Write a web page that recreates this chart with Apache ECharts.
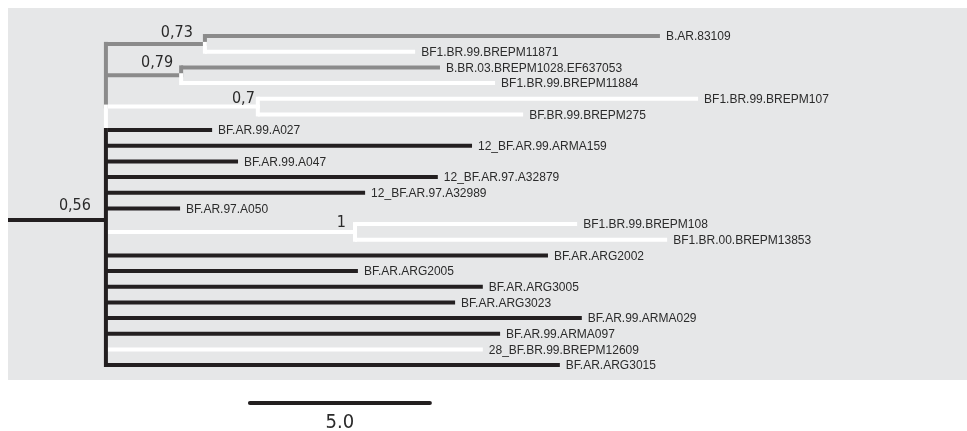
<!DOCTYPE html>
<html>
<head>
<meta charset="utf-8">
<script src="https://cdn.jsdelivr.net/npm/echarts@6/dist/echarts.min.js"></script>
<style>
  html, body { margin: 0; padding: 0; background: #fff; }
  #main { width: 967px; height: 431px; }
</style>
</head>
<body>
<div id="main"></div>
<script>
// tips, top to bottom
const leafNames = [
  'B.AR.83109', 'BF1.BR.99.BREPM11871', 'B.BR.03.BREPM1028.EF637053', 'BF1.BR.99.BREPM11884',
  'BF1.BR.99.BREPM107', 'BF.BR.99.BREPM275', 'BF.AR.99.A027', '12_BF.AR.99.ARMA159',
  'BF.AR.99.A047', '12_BF.AR.97.A32879', '12_BF.AR.97.A32989', 'BF.AR.97.A050',
  'BF1.BR.99.BREPM108', 'BF1.BR.00.BREPM13853', 'BF.AR.ARG2002', 'BF.AR.ARG2005',
  'BF.AR.ARG3005', 'BF.AR.ARG3023', 'BF.AR.99.ARMA029', 'BF.AR.99.ARMA097',
  '28_BF.BR.99.BREPM12609', 'BF.AR.ARG3015'
];
// distance from root (branch length units)
const leafDepth = [
  18.11, 11.31, 12.00, 13.53, 19.17, 14.31, 5.67, 12.89, 6.39, 11.94, 9.92,
  4.78, 15.81, 18.31, 15.00, 9.72, 13.19, 12.42, 15.94, 13.67, 13.19, 15.33
];
// 0 black, 1 gray, 2 white
const leafColor = [1, 2, 1, 2, 2, 2, 0, 0, 0, 0, 0, 0, 2, 2, 0, 0, 0, 0, 0, 0, 2, 0];

const rootDepth = 2.72;
const rootY = 11.74;
const rootSupport = '0,56';

const cladeSupport = ['0,73', '0,79', '0,7', '1'];
const cladeDepth = [5.47, 4.81, 6.94, 9.64];
const cladeTips = [[0, 1], [2, 3], [4, 5], [12, 13]];
const cladeColor = [1, 1, 2, 2];

// vertical line at the root node: [from, to, colour]
const spine = [[0.5, 4.5, 1], [4.5, 6, 2], [6, 21, 0]];

const scaleBarStart = 6.72;
const scaleBarLength = 5.0;
const scaleBarLabel = '5.0';

const palette = ['#231f20', '#8b8b8b', '#ffffff'];
const supportOffsets = [[-12, -11], [-8, -12], [-3, -7.5], [-9, -9.5]];
const rootSupportOffset = [-15, -14];
const narrowFont = "'Liberation Sans Narrow', 'DejaVu Sans Condensed', sans-serif";

// build segments: [x1, y1, x2, y2, colour, vertical]
const horiz = [];
const vert = [];
horiz.push([0, rootY, rootDepth, rootY, 0, 0]);
const inClade = new Set(cladeTips.flat());
leafNames.forEach((n, i) => {
  if (!inClade.has(i)) horiz.push([rootDepth, i, leafDepth[i], i, leafColor[i], 0]);
});
const cladeY = cladeTips.map(t => (t[0] + t[1]) / 2);
cladeTips.forEach((tips, c) => {
  horiz.push([rootDepth, cladeY[c], cladeDepth[c], cladeY[c], cladeColor[c], 0]);
  tips.forEach(t => {
    horiz.push([cladeDepth[c], t, leafDepth[t], t, leafColor[t], 0]);
    vert.push([cladeDepth[c], cladeY[c], cladeDepth[c], t, leafColor[t], 1]);
  });
});
spine.forEach(s => vert.push([rootDepth, s[0], rootDepth, s[1], s[2], 1]));
const segments = horiz.concat(vert);

const leafLabels = leafNames.map((n, i) => [leafDepth[i], i]);
const supportLabels = cladeSupport.map((s, c) => [cladeDepth[c], cladeY[c], c]);
supportLabels.push([rootDepth, rootY, -1]);

const option = {
  animation: false,
  grid: {
    left: 8, top: 8, right: 0, bottom: 51,
    show: true, backgroundColor: '#e6e7e8', borderWidth: 0
  },
  xAxis: { type: 'value', min: 0, max: 26.64, show: false },
  yAxis: { type: 'value', min: -1.79, max: 21.95, inverse: true, show: false },
  series: [
    {
      type: 'custom',
      data: segments,
      encode: { x: [0, 2], y: [1, 3] },
      renderItem: (params, api) => {
        const p1 = api.coord([api.value(0), api.value(1)]);
        const p2 = api.coord([api.value(2), api.value(3)]);
        return {
          type: 'line',
          shape: { x1: p1[0], y1: p1[1], x2: p2[0], y2: p2[1] },
          style: {
            stroke: palette[api.value(4)],
            lineWidth: 4,
            lineCap: api.value(5) ? 'square' : 'butt'
          }
        };
      }
    },
    {
      type: 'custom',
      data: leafLabels,
      renderItem: (params, api) => {
        const p = api.coord([api.value(0), api.value(1)]);
        return {
          type: 'text',
          x: p[0] + 6, y: p[1] + 1,
          style: {
            text: leafNames[params.dataIndex],
            fill: '#2b2b2b',
            font: '12px "Liberation Sans", Arial, sans-serif',
            align: 'left', verticalAlign: 'middle'
          }
        };
      }
    },
    {
      type: 'custom',
      data: supportLabels,
      renderItem: (params, api) => {
        const p = api.coord([api.value(0), api.value(1)]);
        const c = api.value(2);
        const off = c < 0 ? rootSupportOffset : supportOffsets[c];
        return {
          type: 'text',
          x: p[0] + off[0], y: p[1] + off[1],
          style: {
            text: c < 0 ? rootSupport : cladeSupport[c],
            fill: '#2a2a2a',
            font: '16px ' + narrowFont,
            align: 'right', verticalAlign: 'middle'
          }
        };
      }
    },
    {
      type: 'custom',
      clip: false,
      data: [[scaleBarStart, 23.42, scaleBarStart + scaleBarLength]],
      renderItem: (params, api) => {
        const p1 = api.coord([api.value(0), api.value(1)]);
        const p2 = api.coord([api.value(2), api.value(1)]);
        return {
          type: 'group',
          children: [
            {
              type: 'line',
              shape: { x1: p1[0], y1: p1[1], x2: p2[0], y2: p2[1] },
              style: { stroke: '#231f20', lineWidth: 4, lineCap: 'round' }
            },
            {
              type: 'text',
              x: (p1[0] + p2[0]) / 2, y: p1[1] + 20,
              style: {
                text: scaleBarLabel, fill: '#2a2a2a',
                font: '20px ' + narrowFont,
                align: 'center', verticalAlign: 'middle'
              }
            }
          ]
        };
      }
    }
  ]
};

const myChart = echarts.init(document.getElementById('main'));
myChart.setOption(option);
</script>
</body>
</html>
